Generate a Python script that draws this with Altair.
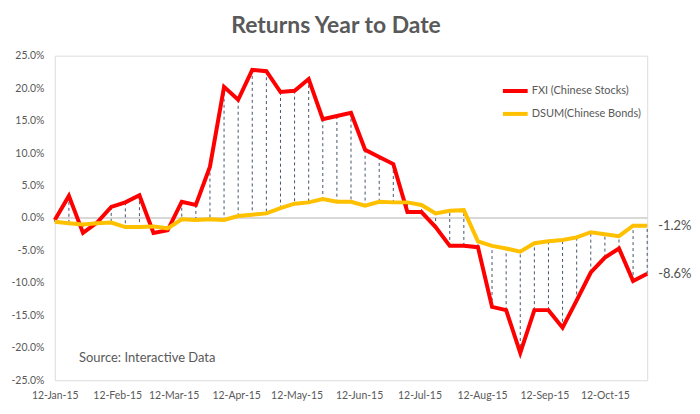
import altair as alt
import pandas as pd

# ---- data (weekly, % year-to-date) ----
dates = pd.date_range("2015-01-12", periods=43, freq="7D")
fxi_pct = [-0.3, 3.4, -2.3, -0.7, 1.7, 2.4, 3.5, -2.3, -1.9, 2.5, 2.0, 7.9,
           20.2, 18.2, 22.8, 22.6, 19.4, 19.6, 21.4, 15.2, 15.7, 16.2, 10.5,
           9.4, 8.3, 0.9, 0.9, -1.4, -4.3, -4.3, -4.5, -13.7, -14.2, -20.8,
           -14.2, -14.2, -16.9, -12.7, -8.4, -6.1, -4.7, -9.7, -8.6]
dsum_pct = [-0.6, -0.8, -1.0, -0.8, -0.7, -1.4, -1.4, -1.3, -1.6, -0.2, -0.3,
            -0.2, -0.3, 0.3, 0.5, 0.7, 1.5, 2.2, 2.4, 2.9, 2.5, 2.5, 1.9, 2.5,
            2.4, 2.4, 2.0, 0.7, 1.1, 1.2, -3.6, -4.3, -4.7, -5.2, -3.9, -3.6,
            -3.4, -3.0, -2.2, -2.5, -2.8, -1.2, -1.2]
series_names = ["FXI (Chinese Stocks)", "DSUM(Chinese Bonds)"]
series_colors = ["#FF0000", "#FFC000"]
y_ticks = [-0.25, -0.20, -0.15, -0.10, -0.05, 0.0, 0.05, 0.10, 0.15, 0.20, 0.25]
x_tick_months = [1, 2, 3, 4, 5, 6, 7, 8, 9, 10]
title_text = "Returns Year to Date"
source_text = "Source: Interactive Data"

FONT = "Lato"
GREY = "#595959"

long_df = pd.DataFrame({
    "date": list(dates) * 2,
    "value": [v / 100 for v in fxi_pct] + [v / 100 for v in dsum_pct],
    "series": [series_names[0]] * len(dates) + [series_names[1]] * len(dates),
})
wide_df = pd.DataFrame({
    "date": dates,
    "fxi": [v / 100 for v in fxi_pct],
    "dsum": [v / 100 for v in dsum_pct],
})
end_df = pd.DataFrame({
    "date": [dates[-1], dates[-1]],
    "value": [dsum_pct[-1] / 100, fxi_pct[-1] / 100],
    "label": [f"{dsum_pct[-1]:.1f}%", f"{fxi_pct[-1]:.1f}%"],
})
source_df = pd.DataFrame({"date": [pd.Timestamp("2015-01-24")], "value": [-0.216],
                          "label": [source_text]})

x_scale = alt.Scale(domain=[alt.DateTime(year=2015, month=1, date=12),
                            alt.DateTime(year=2015, month=11, date=2)], nice=False)
y_scale = alt.Scale(domain=[-0.25, 0.25], nice=False)

x_axis = alt.Axis(values=[alt.DateTime(year=2015, month=m, date=12) for m in x_tick_months],
                  format="%d-%b-%y", labelFont=FONT, labelFontSize=10.5, labelColor=GREY,
                  domain=False, ticks=False, grid=False, labelPadding=10, title=None,
                  labelOverlap=False, labelFlush=False)
y_axis = alt.Axis(values=y_ticks,
                  labelExpr="(datum.value < -0.0001 ? '-' : '') + format(abs(datum.value), '.1%')",
                  labelFont=FONT, labelFontSize=10.5, labelColor=GREY, labelOverlap=False,
                  labelFlush=False,
                  domain=False, ticks=False, grid=False, labelPadding=11, title=None)

base = alt.Chart(long_df)

zero = alt.Chart(wide_df).mark_rule(color="#D9D9D9", strokeWidth=1).encode(
    y=alt.datum(0, type="quantitative", scale=y_scale, axis=y_axis)
)

drops = alt.Chart(wide_df).mark_rule(color="#44546A", strokeWidth=1, strokeDash=[3, 3]).encode(
    x=alt.X("date:T", scale=x_scale, axis=x_axis),
    y=alt.Y("fxi:Q", scale=y_scale, axis=y_axis),
    y2="dsum:Q",
)

lines = base.mark_line(strokeWidth=4, strokeJoin="miter").encode(
    x=alt.X("date:T", scale=x_scale, axis=x_axis),
    y=alt.Y("value:Q", scale=y_scale, axis=y_axis),
    color=alt.Color("series:N",
                    scale=alt.Scale(domain=series_names, range=series_colors),
                    sort=series_names,
                    legend=alt.Legend(title=None, orient="none", legendX=448, legendY=21,
                                      symbolType="stroke", symbolSize=620, symbolStrokeWidth=4,
                                      labelFont=FONT, labelFontSize=11, labelColor=GREY,
                                      labelOffset=2, rowPadding=0)),
    order=alt.Order("date:T"),
)

end_labels = alt.Chart(end_df).mark_text(align="left", baseline="middle", dx=11,
                                         font=FONT, fontSize=13, color="#505050").encode(
    x=alt.X("date:T", scale=x_scale, axis=x_axis),
    y=alt.Y("value:Q", scale=y_scale, axis=y_axis),
    text="label:N",
)

source = alt.Chart(source_df).mark_text(align="left", baseline="middle",
                                        font=FONT, fontSize=13, color=GREY).encode(
    x=alt.X("date:T", scale=x_scale, axis=x_axis),
    y=alt.Y("value:Q", scale=y_scale, axis=y_axis),
    text="label:N",
)

chart = alt.layer(zero, drops, lines, end_labels, source).properties(
    width=595,
    height=326,
    padding={"left": 47, "top": 47, "right": 45, "bottom": 25},
    autosize=alt.AutoSizeParams(type="none"),
    title=alt.TitleParams(title_text, font=FONT, fontSize=23, fontWeight="bold",
                          color=GREY, anchor="middle", offset=13, dx=-15),
).configure_view(stroke=None).configure(background="white").configure_axis(
    labelOverlap=False
)

chart.save("out.html", embed_options={"renderer": "svg", "actions": False})
